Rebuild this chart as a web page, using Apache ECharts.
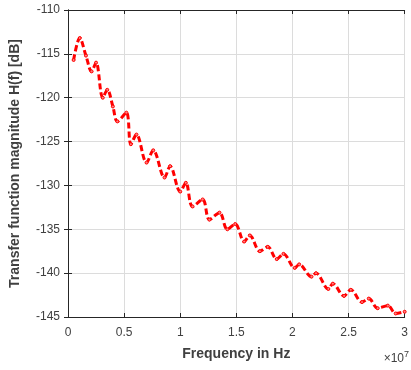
<!DOCTYPE html>
<html><head><meta charset="utf-8">
<script src="https://cdn.jsdelivr.net/npm/echarts@6/dist/echarts.min.js"></script>
<style>html,body{margin:0;padding:0;background:#fff}#c{width:411px;height:370px}</style>
</head><body><div id="c"></div>
<script>
const freqMHz10 = [0.05,0.105,0.16,0.21,0.25,0.31,0.35,0.40,0.44,0.52,0.56,0.61,0.70,0.76,0.86,0.91,1.0,1.05,1.11,1.2,1.26,1.35,1.42,1.49,1.57,1.62,1.71,1.78,1.86,1.92,2.02,2.06,2.17,2.21,2.32,2.36,2.46,2.52,2.62,2.68,2.76,2.85,2.92,3.0];
const magDb = [-115.7,-113.2,-115.2,-117.0,-116.0,-120.0,-119.1,-121.0,-122.7,-121.7,-125.3,-124.2,-127.4,-126.0,-129.1,-127.8,-130.7,-129.7,-132.4,-131.6,-133.9,-133.1,-135.0,-134.4,-136.4,-135.7,-137.5,-137.0,-138.4,-137.8,-139.4,-139.0,-140.4,-140.0,-141.8,-141.2,-142.6,-141.9,-143.3,-142.9,-144.0,-143.7,-144.6,-144.4];
const xTicks = ['0','0.5','1','1.5','2','2.5','3'];
const yTicks = ['-145','-140','-135','-130','-125','-120','-115','-110'];
const data = freqMHz10.map((f,i)=>[f*1e7, magDb[i]]);
const axisCol = '#262626';
const font = 'Liberation Sans, Arial, sans-serif';
const chart = echarts.init(document.getElementById('c'));
chart.setOption({
  animation:false,
  grid:{left:68,right:1,top:10,bottom:53},
  xAxis:[{
    type:'value',min:0,max:3e7,interval:0.5e7,
    axisLine:{lineStyle:{color:axisCol,width:1}},
    axisTick:{inside:true,length:4,lineStyle:{color:axisCol}},
    axisLabel:{color:'#404040',fontSize:12,fontFamily:font,margin:10,
      formatter:v=>xTicks[Math.round(v/0.5e7)]},
    splitLine:{show:true,lineStyle:{color:'#dcdcdc',width:1}},
    name:'Frequency in Hz',nameLocation:'middle',nameGap:30,
    nameTextStyle:{color:'#404040',fontSize:14,fontWeight:'bold',fontFamily:font}
  },{
    type:'value',min:0,max:3e7,interval:0.5e7,position:'top',
    axisLine:{show:true,lineStyle:{color:axisCol,width:1}},
    axisTick:{inside:true,length:4,lineStyle:{color:axisCol}},
    axisLabel:{show:false},splitLine:{show:false}
  }],
  yAxis:[{
    type:'value',min:-145,max:-110,interval:5,
    axisLine:{show:true,lineStyle:{color:axisCol,width:1}},
    axisTick:{show:true,inside:true,length:4,lineStyle:{color:axisCol}},
    axisLabel:{color:'#404040',fontSize:12,fontFamily:font,margin:8,
      formatter:v=>yTicks[Math.round((v+145)/5)]},
    splitLine:{show:true,lineStyle:{color:'#dcdcdc',width:1}},
    name:'Transfer function magnitude H(f) [dB]',nameLocation:'middle',nameGap:46,
    nameTextStyle:{color:'#404040',fontSize:14,fontWeight:'bold',fontFamily:font}
  },{
    type:'value',min:-145,max:-110,interval:5,position:'right',
    axisLine:{show:true,lineStyle:{color:axisCol,width:1}},
    axisTick:{show:true,inside:true,length:4,lineStyle:{color:axisCol}},
    axisLabel:{show:false},splitLine:{show:false}
  }],
  graphic:[{type:'text',right:2,top:350,style:{
    text:'×10{s|7}',fill:'#404040',font:'12px '+font,
    rich:{s:{fontSize:9,verticalAlign:'top',padding:[0,0,8,0],fill:'#404040'}}
  }}],
  series:[{
    type:'line',data:data,xAxisIndex:0,yAxisIndex:0,smooth:0.35,
    lineStyle:{color:'#ff0000',width:3,type:[6,3]},
    symbol:'circle',symbolSize:3,showSymbol:true,
    itemStyle:{color:'#ff8080',borderColor:'#ff0000',borderWidth:1}
  }]
});
</script></body></html>
